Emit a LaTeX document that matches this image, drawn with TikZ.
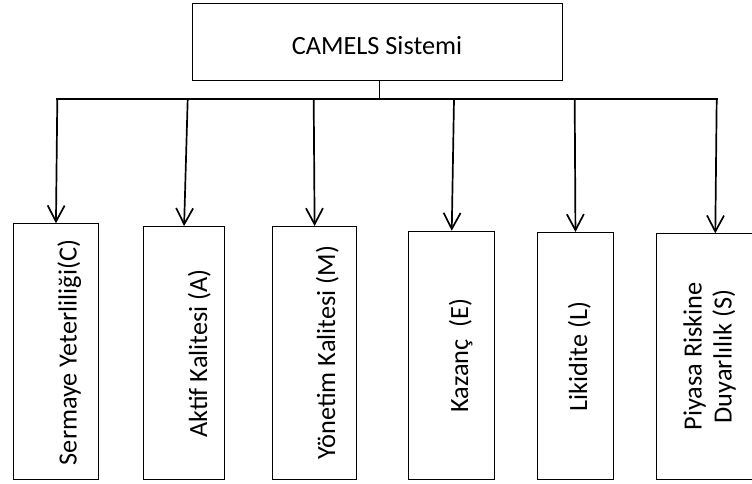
\documentclass[tikz,border=0pt]{standalone}
\usepackage{fontspec}
\setmainfont{Carlito}
\usetikzlibrary{arrows.meta}
\begin{document}
\begin{tikzpicture}[x=1pt,y=-1pt,
  box/.style={draw=black,line width=0.9pt,inner sep=0pt,anchor=north west},
  vlabel/.style={rotate=90,inner sep=0pt,anchor=base,font=\fontsize{26.3}{30}\selectfont},
  busline/.style={line width=1.7pt},
  droparrow/.style={line width=1.7pt,-{Straight Barb[length=16pt,width=17pt]}}]
\clip (0,0) rectangle (752,484);
\fill[white] (0,0) rectangle (752,484);
% top box
\node[box,minimum width=370pt,minimum height=77pt] (top) at (192,3) {};
\node[inner sep=0pt,anchor=base,font=\fontsize{26.3}{30}\selectfont] (toptext) at (377,55) {CAMELS Sistemi};
% child boxes
\node[box,minimum width=84.4pt,minimum height=255.4pt] (n1) at (13.3,223.3) {};
\node[box,minimum width=80.7pt,minimum height=252.7pt] (n2) at (143.3,226) {};
\node[box,minimum width=84.3pt,minimum height=252.7pt] (n3) at (272,226) {};
\node[box,minimum width=86pt,minimum height=248pt] (n4) at (408.3,230.7) {};
\node[box,minimum width=76.6pt,minimum height=246.7pt] (n5) at (536.7,232) {};
\node[box,minimum width=118.3pt,minimum height=245.4pt] (n6) at (655.7,233.3) {};
% labels
\node[vlabel] (t1) at (76.5,352.5) {Sermaye Yeterliliği(C)};
\node[vlabel] (t2) at (207,353.5) {Aktif Kalitesi (A)};
\node[vlabel] (t3) at (335,352.5) {Yönetim Kalitesi (M)};
\node[vlabel] (t4) at (468,355.5) {Kazanç~~(E)};
\node[vlabel] (t5) at (587,356.5) {Likidite (L)};
\node[vlabel,anchor=center,align=center] (t6) at (709.5,356.5) {Piyasa Riskine\\Duyarlılık (S)};
% bus coordinates
\coordinate (s) at (379.3,99);
\coordinate (d1) at (57.3,99);
\coordinate (d2) at (187.7,99);
\coordinate (d3) at (313.7,99);
\coordinate (d4) at (454,99);
\coordinate (d5) at (574.7,99);
\coordinate (d6) at (716.7,99);
\draw[line width=1pt] (top.south -| s) -- (s);
\draw[busline,line cap=rect] (d1) -- (d6);
\draw[droparrow] (d1) -- (n1.north);
\draw[droparrow] (d2) -- (n2.north);
\draw[droparrow] (d3) -- (n3.north);
\draw[droparrow] (d4) -- (n4.north);
\draw[droparrow] (d5) -- (n5.north);
\draw[droparrow] (d6) -- (n6.north);
\end{tikzpicture}
\end{document}
